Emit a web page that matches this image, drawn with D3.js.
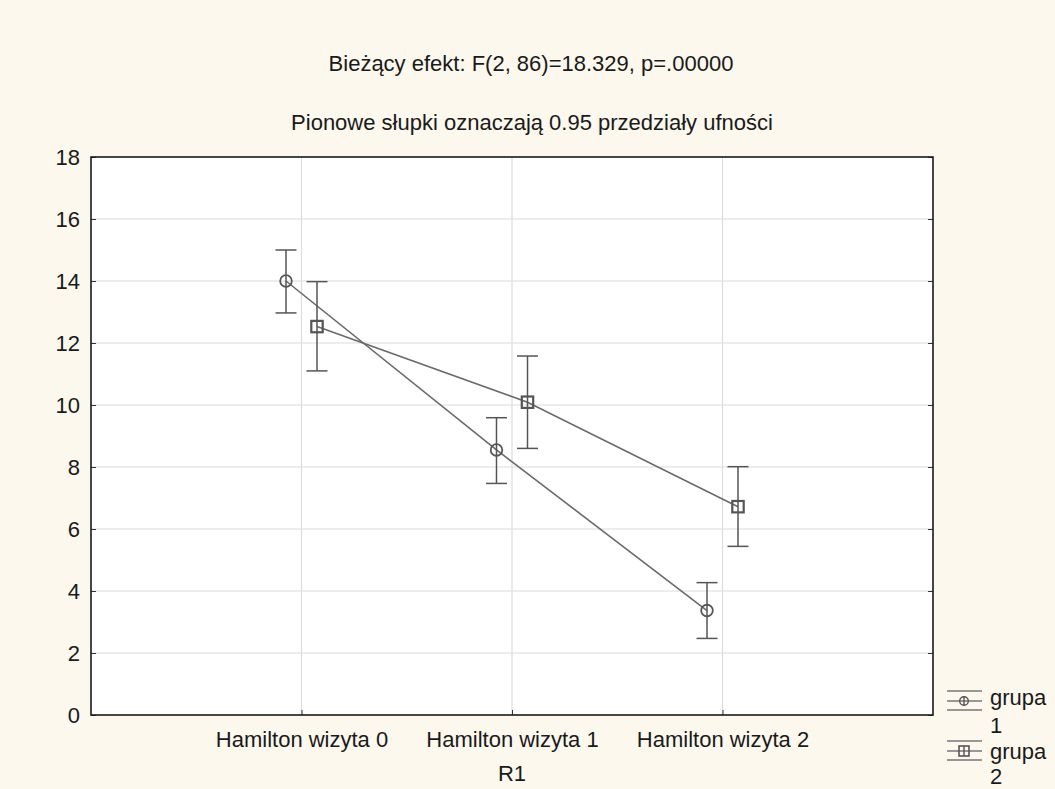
<!DOCTYPE html>
<html>
<head>
<meta charset="utf-8">
<script src="https://cdn.jsdelivr.net/npm/d3@7"></script>
<style>
  html, body { margin: 0; padding: 0; background: #fcf8ee; }
  svg { display: block; }
  text { font-family: "Liberation Sans", Arial, sans-serif; fill: #1a1a1a; }
</style>
</head>
<body>
<svg id="chart" width="1055" height="789"></svg>
<script>
// ---- data ----
const categories = ["Hamilton wizyta 0", "Hamilton wizyta 1", "Hamilton wizyta 2"];
const seriesNames = ["grupa 1", "grupa 2"];
const group1Mean = [14.0, 8.55, 3.37];
const group1Low  = [12.97, 7.47, 2.47];
const group1High = [15.0, 9.59, 4.27];
const group2Mean = [12.53, 10.09, 6.72];
const group2Low  = [11.10, 8.60, 5.44];
const group2High = [13.98, 11.58, 8.01];
const yTicks = [0, 2, 4, 6, 8, 10, 12, 14, 16, 18];
const title1 = "Bieżący efekt: F(2, 86)=18.329, p=.00000";
const title2 = "Pionowe słupki oznaczają 0.95 przedziały ufności";
const xAxisTitle = "R1";

// ---- layout ----
const svg = d3.select("#chart");
const L = 91, R = 933, T = 157, B = 715;
const FS = "22px";
const x = d3.scalePoint().domain(categories).range([L, R]).padding(1);
const y = d3.scaleLinear().domain([0, 18]).range([B, T]);
const offsets = [-15.5, 15.5];
const lineCol = "#6a6a6a", markCol = "#555";

svg.append("rect").attr("x", L).attr("y", T).attr("width", R - L).attr("height", B - T).attr("fill", "#fff");

// grid
svg.append("g").selectAll("line").data(yTicks.slice(1, -1)).join("line")
  .attr("x1", L).attr("x2", R).attr("y1", d => y(d)).attr("y2", d => y(d))
  .attr("stroke", "#dcdcdc").attr("stroke-width", 1.2);
svg.append("g").selectAll("line").data(categories).join("line")
  .attr("x1", d => x(d)).attr("x2", d => x(d)).attr("y1", T).attr("y2", B)
  .attr("stroke", "#dcdcdc").attr("stroke-width", 1.2);

// axes (ticks inside)
const yAxisL = d3.axisLeft(y).tickValues(yTicks).tickSize(-5).tickPadding(16).tickFormat(d3.format("d"));
const gy = svg.append("g").attr("transform", `translate(${L},0)`).call(yAxisL);
gy.select(".domain").remove();
gy.selectAll("line").attr("stroke", "#333");
gy.selectAll("text").style("font-size", FS).attr("x", -11).attr("dy", "0.36em");

const yAxisR = d3.axisRight(y).tickValues(yTicks).tickSize(-5).tickFormat("");
const gyr = svg.append("g").attr("transform", `translate(${R},0)`).call(yAxisR);
gyr.select(".domain").remove();
gyr.selectAll("line").attr("stroke", "#333");

const xAxis = d3.axisBottom(x).tickSize(-5).tickPadding(0);
const gx = svg.append("g").attr("transform", `translate(0,${B})`).call(xAxis);
gx.select(".domain").remove();
gx.selectAll("line").attr("stroke", "#333");
gx.selectAll("text").style("font-size", FS).attr("y", 32).attr("dy", 0);

// border
svg.append("rect").attr("x", L).attr("y", T).attr("width", R - L).attr("height", B - T)
  .attr("fill", "none").attr("stroke", "#1a1a1a").attr("stroke-width", 1.6);

// series
const series = [
  { mean: group1Mean, low: group1Low, high: group1High, shape: "circle" },
  { mean: group2Mean, low: group2Low, high: group2High, shape: "square" }
];
const capW = 10.5;
series.forEach((s, si) => {
  const g = svg.append("g");
  const px = i => x(categories[i]) + offsets[si];
  const line = d3.line().x((d, i) => px(i)).y(d => y(d));
  g.append("path").datum(s.mean).attr("d", line).attr("fill", "none")
    .attr("stroke", lineCol).attr("stroke-width", 1.6);
  categories.forEach((c, i) => {
    const cx = px(i);
    g.append("line").attr("x1", cx).attr("x2", cx).attr("y1", y(s.low[i])).attr("y2", y(s.high[i]))
      .attr("stroke", markCol).attr("stroke-width", 1.5);
    [s.low[i], s.high[i]].forEach(v => {
      g.append("line").attr("x1", cx - capW).attr("x2", cx + capW).attr("y1", y(v)).attr("y2", y(v))
        .attr("stroke", markCol).attr("stroke-width", 1.5);
    });
    if (s.shape === "circle") {
      g.append("circle").attr("cx", cx).attr("cy", y(s.mean[i])).attr("r", 5.8)
        .attr("fill", "none").attr("stroke", markCol).attr("stroke-width", 1.8);
    } else {
      g.append("rect").attr("x", cx - 5.7).attr("y", y(s.mean[i]) - 5.7).attr("width", 11.4).attr("height", 11.4)
        .attr("fill", "none").attr("stroke", markCol).attr("stroke-width", 2.2);
    }
  });
});

// titles
svg.append("text").attr("x", 531).attr("y", 71).attr("text-anchor", "middle").style("font-size", FS).text(title1);
svg.append("text").attr("x", 532).attr("y", 130).attr("text-anchor", "middle").style("font-size", FS).text(title2);
svg.append("text").attr("x", x(categories[1])).attr("y", 781).attr("text-anchor", "middle").style("font-size", FS).text(xAxisTitle);

// legend
const legY = [701, 751];
const legTextDy = [[4, 32], [8, 33]];
seriesNames.forEach((name, i) => {
  const g = svg.append("g");
  const cy = legY[i], cx = 964, x0 = 947, x1 = 982;
  [-10, 0, 9].forEach(dy => {
    g.append("line").attr("x1", x0).attr("x2", x1).attr("y1", cy + dy).attr("y2", cy + dy)
      .attr("stroke", "#777").attr("stroke-width", 1.4);
  });
  g.append("line").attr("x1", cx).attr("x2", cx).attr("y1", cy - 5).attr("y2", cy + 5)
    .attr("stroke", "#555").attr("stroke-width", 1.4);
  if (i === 0) {
    g.append("circle").attr("cx", cx).attr("cy", cy).attr("r", 4.3).attr("fill", "none").attr("stroke", "#555").attr("stroke-width", 1.4);
  } else {
    g.append("rect").attr("x", cx - 5).attr("y", cy - 5).attr("width", 10).attr("height", 10).attr("fill", "none").attr("stroke", "#555").attr("stroke-width", 1.6);
  }
  const parts = name.split(" ");
  g.append("text").attr("x", 990).attr("y", cy + legTextDy[i][0]).style("font-size", FS).text(parts[0]);
  g.append("text").attr("x", 990).attr("y", cy + legTextDy[i][1]).style("font-size", FS).text(parts[1]);
});
</script>
</body>
</html>
